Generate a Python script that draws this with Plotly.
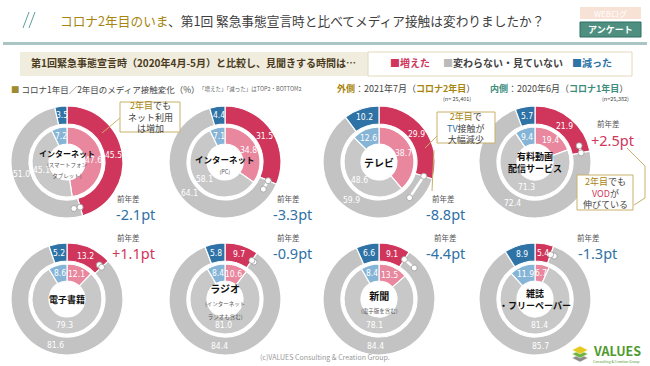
import math
import plotly.graph_objects as go

W, H = 650, 366

# ---------------- data ----------------
media_names = ["インターネット", "インターネット", "テレビ", "有料動画<br>配信サービス",
               "電子書籍", "ラジオ", "新聞", "雑誌<br>・フリーペーパー"]
media_notes = ["(スマートフォン<br>タブレット)", "(PC)", "", "", "", "(インターネット<br>ラジオも含む)", "(電子版を含む)", ""]
outer_inc = [45.5, 31.5, 29.9, 21.9, 13.2, 9.7, 9.1, 5.4]      # 2021年7月
outer_same = [51.0, 64.1, 59.9, 72.4, 81.6, 84.4, 84.4, 85.7]
outer_dec = [3.5, 4.4, 10.2, 5.7, 5.2, 5.8, 6.6, 8.9]
inner_inc = [47.6, 34.8, 38.7, 19.4, 12.1, 10.6, 13.5, 6.7]      # 2020年6月
inner_same = [45.1, 58.1, 48.6, 71.3, 79.3, 81.0, 78.1, 81.4]
inner_dec = [7.2, 7.1, 12.6, 9.4, 8.6, 8.4, 8.4, 11.9]
categories = ["増えた", "変わらない・見ていない", "減った"]
n_outer = "25,401"
n_inner = "25,382"

# ---------------- styles / layout ----------------
RED, PINK = "#D0365C", "#E8879E"
GRAY_O, GRAY_I = "#C3C3C3", "#C8C8C8"
BLUE, LBLUE = "#2E72A6", "#86B4D6"
GOLD = "#A7850F"
TEAL = "#3E8C7C"
FONT = "Noto Sans CJK JP"
NUMFONT = "Liberation Sans Narrow, DejaVu Sans Condensed, Arial Narrow, sans-serif"

centers = [(67, 162), (225, 162), (379, 162), (535, 162),
           (67, 299), (225, 299), (379, 299), (535, 299)]
name_sizes = [8, 8.5, 10, 9, 9, 10, 10, 9]
R_OUT, R_OUT_IN = 56, 38
R_IN, R_IN_IN = 35, 18
diff_pos = [(128, 198, 135, 214), (288, 198, 292, 214), (443, 198, 445, 214), (608, 124, 612, 140),
            (128, 237, 133, 253), (288, 237, 292, 253), (445, 237, 445, 253), (588, 237, 597, 253)]


def X(px):
    return px / W


def Y(py):
    return 1 - py / H


fig = go.Figure()
annotations = []
shapes = []


def ann(x, y, text, size=9, color="#333", xanchor="center", yanchor="middle", family=FONT, **kw):
    annotations.append(dict(x=X(x), y=Y(y), xref="paper", yref="paper", text=text, showarrow=False,
                            xanchor=xanchor, yanchor=yanchor,
                            font=dict(size=size, color=color, family=family), **kw))


def rect(x0, y0, x1, y1, fill, line=None, lw=1, layer="below"):
    shapes.append(dict(type="rect", xref="paper", yref="paper", x0=X(x0), x1=X(x1), y0=Y(y1), y1=Y(y0),
                       fillcolor=fill, line=dict(color=line or fill, width=lw if line else 0), layer=layer))


def line(x0, y0, x1, y1, color, w=1, layer="above"):
    shapes.append(dict(type="line", xref="paper", yref="paper", x0=X(x0), x1=X(x1), y0=Y(y0), y1=Y(y1),
                       line=dict(color=color, width=w), layer=layer))


def circle(cx, cy, r, fill, lc, lw=1):
    shapes.append(dict(type="circle", xref="paper", yref="paper", x0=X(cx - r), x1=X(cx + r),
                       y0=Y(cy + r), y1=Y(cy - r), fillcolor=fill, line=dict(color=lc, width=lw), layer="above"))


def polar(cx, cy, r, frac):
    a = 2 * math.pi * frac
    return cx + r * math.sin(a), cy - r * math.cos(a)


for i, (cx, cy) in enumerate(centers):
    ov = [outer_inc[i], outer_same[i], outer_dec[i]]
    iv = [inner_inc[i], inner_same[i], inner_dec[i]]
    for vals, R, r, cols in ((ov, R_OUT, R_OUT_IN, [RED, GRAY_O, BLUE]),
                             (iv, R_IN, R_IN_IN, [PINK, GRAY_I, LBLUE])):
        fig.add_trace(go.Pie(
            labels=categories, values=vals, sort=False, direction="clockwise", rotation=0,
            hole=r / R, textinfo="none", hoverinfo="skip", showlegend=False,
            marker=dict(colors=cols, line=dict(color="white", width=1.2)),
            domain=dict(x=[X(cx - R), X(cx + R)], y=[Y(cy + R), Y(cy - R)])))
        tot = sum(vals)
        cum = 0
        for v in vals:
            mid = (cum + v / 2) / tot
            cum += v
            tx, ty = polar(cx, cy, (R + r) / 2, mid)
            ann(tx, ty, f"{v:.1f}", size=8.5, color="white", family=NUMFONT)
    # dial dots at end of 'increased'
    p1 = polar(cx, cy, (R_OUT + R_OUT_IN) / 2, outer_inc[i] / sum(ov))
    p2 = polar(cx, cy, (R_OUT + R_OUT_IN) / 2, inner_inc[i] / sum(iv))
    line(p1[0], p1[1], p2[0], p2[1], "white", 2.5)
    circle(p2[0], p2[1], 3, "white", "#9a9a9a", 0.8)
    circle(p1[0], p1[1], 3, "white", "#9a9a9a", 0.8)
    # center label
    txt = f"<b>{media_names[i]}</b>"
    if media_notes[i]:
        txt += f"<br><span style='font-size:5.5px;color:#555'>{media_notes[i]}</span>"
    ann(cx, cy + (2 if media_notes[i] else 0), txt, size=name_sizes[i], color="#111")
    # diff
    d = round(outer_inc[i] - inner_inc[i], 1)
    dx0, dy0, dx1, dy1 = diff_pos[i]
    ann(dx0, dy0, "前年差", size=7.5, color="#555")
    ann(dx1, dy1, f"{'+' if d > 0 else ''}{d:.1f}pt", size=14.5,
        color=RED if d > 0 else BLUE, family="Noto Sans, DejaVu Sans")

# ---------------- header ----------------
line(23, 28, 29, 12, "#5F9F9F", 1)
line(29, 28, 35, 12, "#5F9F9F", 1)
ann(58, 21, f"<span style='color:{GOLD}'>コロナ2年目のいま</span>、第1回 緊急事態宣言時と比べてメディア接触は変わりましたか？",
    size=12.7, color="#404040", xanchor="left")
rect(580, 7, 641, 19, "#F8E1D5")
ann(610.5, 13, "WEBログ", size=8, color="white")
rect(580, 22, 641, 37, "#4E8F80", "#2F6E62", 1)
ann(610.5, 29.5, "<b>アンケート</b>", size=9, color="white")
rect(3, 42, 647, 45, "#A9C6C4")

# banner
rect(20, 52, 632, 76, "#F0ECDE")
rect(368, 52, 632, 76, "white", "#E2D9BC", 1)
ann(29, 63, "<b>第1回緊急事態宣言時（2020年4月-5月）と比較し、見聞きする時間は…</b>",
    size=10, color="#4A3A20", xanchor="left")
ann(388, 63, f"<b>■増えた</b>", size=10, color=RED, xanchor="left")
ann(441, 63, "<span style='color:#BBBBBB'>■</span><b>変わらない・見ていない</b>", size=10, color="#444", xanchor="left")
ann(570, 63, f"<b>■減った</b>", size=10, color=BLUE, xanchor="left")

# sub header
ann(9, 89, "<span style='color:#A08A30'>■</span> コロナ1年目／2年目のメディア接触変化（%）", size=8.5,
    color="#444", xanchor="left")
ann(197, 89, "「増えた」「減った」はTOP2・BOTTOM2", size=5.5, color="#666", xanchor="left")
ann(335, 88, f"<b><span style='color:{GOLD}'>外側</span></b>：2021年7月（<b><span style='color:{GOLD}'>コロナ2年目</span></b>）",
    size=9, color="#444", xanchor="left")
ann(488, 88, f"<b><span style='color:{TEAL}'>内側</span></b>：2020年6月（<b><span style='color:{TEAL}'>コロナ1年目</span></b>）",
    size=9, color="#444", xanchor="left")
ann(457, 99, f"(n= {n_outer})", size=5.5, color="#444")
ann(615, 99, f"(n={n_inner})", size=5.5, color="#444")

# callouts
CB = "#C8B06A"
rect(120, 102, 180, 132, "white", CB, 1, layer="above")
ann(150, 117, f"<span style='color:{GOLD}'>2年目</span>でも<br>ネット利用<br>は増加", size=9, color="#444")
line(120, 118, 102, 133, CB, 1)

rect(437, 112, 495, 143, "white", CB, 1, layer="above")
ann(466, 127.5, f"<span style='color:{GOLD}'>2年目</span>で<br><span style='color:{BLUE}'>TV</span>接触が<br>大幅減少",
    size=9, color="#444")
line(437, 136, 425, 148, CB, 1)
line(434, 150, 432, 191, CB, 1)

rect(577, 175, 633, 210, "white", CB, 1, layer="above")
ann(605, 192.5, f"<span style='color:{GOLD}'>2年目</span>でも<br><span style='color:{RED}'>VOD</span>が<br>伸びている",
    size=9, color="#444")
line(627, 148, 645, 166, CB, 1)
line(645, 166, 645, 198, CB, 1)
line(645, 198, 634, 205, CB, 1)

# footer
ann(325, 357, "(c)VALUES Consulting &amp; Creation Group.", size=7, color="#999")
for k, c in enumerate(["#8A8A8A", "#6DB33F", "#E5C820"]):
    yy = 358 - k * 4
    shapes.append(dict(type="path", xref="paper", yref="paper",
                       path=f"M {X(572)},{Y(yy)} L {X(580)},{Y(yy - 4)} L {X(588)},{Y(yy)} L {X(580)},{Y(yy + 4)} Z",
                       fillcolor=c, line=dict(color="white", width=0.5), layer="above"))
ann(591, 350, "<b>VALUES</b>", size=12.5, color="#4E9A2E", xanchor="left")
ann(591, 361, "Consulting &amp; Creation Group", size=3.5, color="#4E9A2E", xanchor="left")

fig.update_layout(width=W, height=H, margin=dict(l=0, r=0, t=0, b=0),
                  paper_bgcolor="white", plot_bgcolor="white",
                  annotations=annotations, shapes=shapes, font=dict(family=FONT))
fig.write_html("out.html", config={"displayModeBar": False},
               post_script="document.body.style.margin='0px';document.body.style.overflow='hidden';")
